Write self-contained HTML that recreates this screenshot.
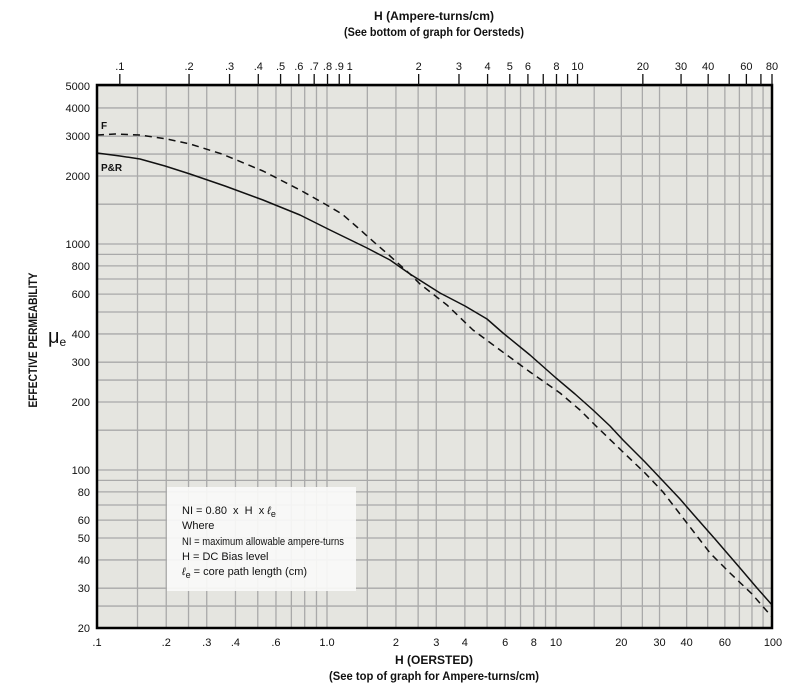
<!DOCTYPE html>
<html><head><meta charset="utf-8"><style>
body{margin:0;background:#fff}
svg{display:block}
text{font-family:"Liberation Sans Narrow","Liberation Sans",sans-serif;fill:#111}
</style></head><body>
<svg id="s" width="811" height="691" xmlns="http://www.w3.org/2000/svg">
<rect x="97" y="85" width="675" height="543" fill="#e5e5e0"/>
<g id="grid" stroke="#a9a9a9" stroke-width="1.3"></g>
<g id="curves" fill="none" stroke="#111" stroke-width="1.5" stroke-linejoin="round">
<polyline points="97,153 120,156 140,159 165,166 190,174 225,186 263,200 300,215 330,230 367,248 390,260 410,274 440,293 465,306 487,319 503,333 530,355 556,378 575,394 593,410 610,426 623,440 645,462 663,481 680,499 693,514 715,539 740,568 757,588 772,605"/>
<polyline stroke-dasharray="7,5" points="97,135 115,134 140,135 167,139 190,144 222,154 263,171 300,190 325,204 342,214 357,227 375,243 390,256 400,265 410,274 420,284 447,305 473,330 500,350 530,372 560,393 580,410 596,426 623,452 645,473 663,492 690,527 710,553 730,573 752,594 772,617"/>
</g>
<rect x="97" y="85" width="675" height="543" fill="none" stroke="#000" stroke-width="2.5"/>
<g id="lab" font-size="11"></g>
<text x="101" y="129" font-size="10" font-weight="bold">F</text>
<text x="101" y="171" font-size="10" font-weight="bold">P&amp;R</text>
<rect x="167" y="487" width="189" height="104" fill="#fafaf8" opacity="0.92"/>
<g font-size="11">
<text x="182" y="514">NI = 0.80 &#160;x &#160;H &#160;x <tspan font-style="italic">ℓ</tspan><tspan font-size="9" dy="3">e</tspan></text>
<text x="182" y="529">Where</text>
<text x="182" y="545" textLength="162" lengthAdjust="spacingAndGlyphs">NI = maximum allowable ampere-turns</text>
<text x="182" y="560">H = DC Bias level</text>
<text x="182" y="575"><tspan font-style="italic">ℓ</tspan><tspan font-size="9" dy="3">e</tspan><tspan dy="-3"> = core path length (cm)</tspan></text>
</g>
<g font-size="12" font-weight="bold" text-anchor="middle">
<text x="434" y="20" textLength="120" lengthAdjust="spacingAndGlyphs">H (Ampere-turns/cm)</text>
<text x="434" y="36" textLength="180" lengthAdjust="spacingAndGlyphs">(See bottom of graph for Oersteds)</text>
<text x="434" y="664" textLength="78" lengthAdjust="spacingAndGlyphs">H (OERSTED)</text>
<text x="434" y="680" textLength="210" lengthAdjust="spacingAndGlyphs">(See top of graph for Ampere-turns/cm)</text>
<text transform="translate(37,340) rotate(-90)" font-size="12" textLength="135" lengthAdjust="spacingAndGlyphs">EFFECTIVE PERMEABILITY</text>
</g>
<text x="48" y="343" font-size="20">μ<tspan font-size="12" dy="3">e</tspan></text>
</svg>
<script>
var NS="http://www.w3.org/2000/svg";
function X(v){var l=Math.log10(v);
 if(l<=0)return 97+(l+1)*230;
 if(l<=1)return 327+l*229;
 return 556+(l-1)*217;}
function Y(v){return 244-226*Math.log10(v/1000);}
var g=document.getElementById('grid'),lab=document.getElementById('lab'),sv=document.getElementById('s');
function line(p,x1,y1,x2,y2,c,w){var e=document.createElementNS(NS,'line');e.setAttribute('x1',x1);e.setAttribute('y1',y1);e.setAttribute('x2',x2);e.setAttribute('y2',y2);if(c)e.setAttribute('stroke',c);if(w)e.setAttribute('stroke-width',w);p.appendChild(e);}
function txt(x,y,t,a){var e=document.createElementNS(NS,'text');e.setAttribute('x',x);e.setAttribute('y',y);if(a)e.setAttribute('text-anchor',a);e.textContent=t;lab.appendChild(e);}
var ys=[5000,4000,3000,2500,2000,1500,1000,900,800,700,600,500,400,300,250,200,150,100,90,80,70,60,50,40,30,25,20];
ys.forEach(function(v){line(g,97,Y(v),772,Y(v));});
var mm=[1,1.5,2,2.5,3,4,5,6,7,8,9];
[0.1,1,10].forEach(function(d){mm.forEach(function(k){var v=d*k;if(v>0.1&&v<100)line(g,X(v),85,X(v),628);});});
[5000,4000,3000,2000,1000,800,600,400,300,200,100,80,60,50,40,30,20].forEach(function(v){txt(90,Y(v)+4,v,'end');});
[['.1',.1],['.2',.2],['.3',.3],['.4',.4],['.6',.6],['1.0',1],['2',2],['3',3],['4',4],['6',6],['8',8],['10',10],['20',20],['30',30],['40',40],['60',60],['100',100]].forEach(function(a){txt(X(a[1]),646,a[0],'middle');});
var topT=[['.1',.1],['.2',.2],['.3',.3],['.4',.4],['.5',.5],['.6',.6],['.7',.7],['.8',.8],['.9',.9],['1',1],['2',2],['3',3],['4',4],['5',5],['6',6],['',7],['8',8],['',9],['10',10],['20',20],['30',30],['40',40],['',50],['60',60],['',70],['80',80]];
topT.forEach(function(a){var x=X(a[1]*1.2566);if(x>773)x=772;line(sv,x,74,x,85,'#111',1.3);if(a[0])txt(x,70,a[0],'middle');});
</script>
</body></html>
